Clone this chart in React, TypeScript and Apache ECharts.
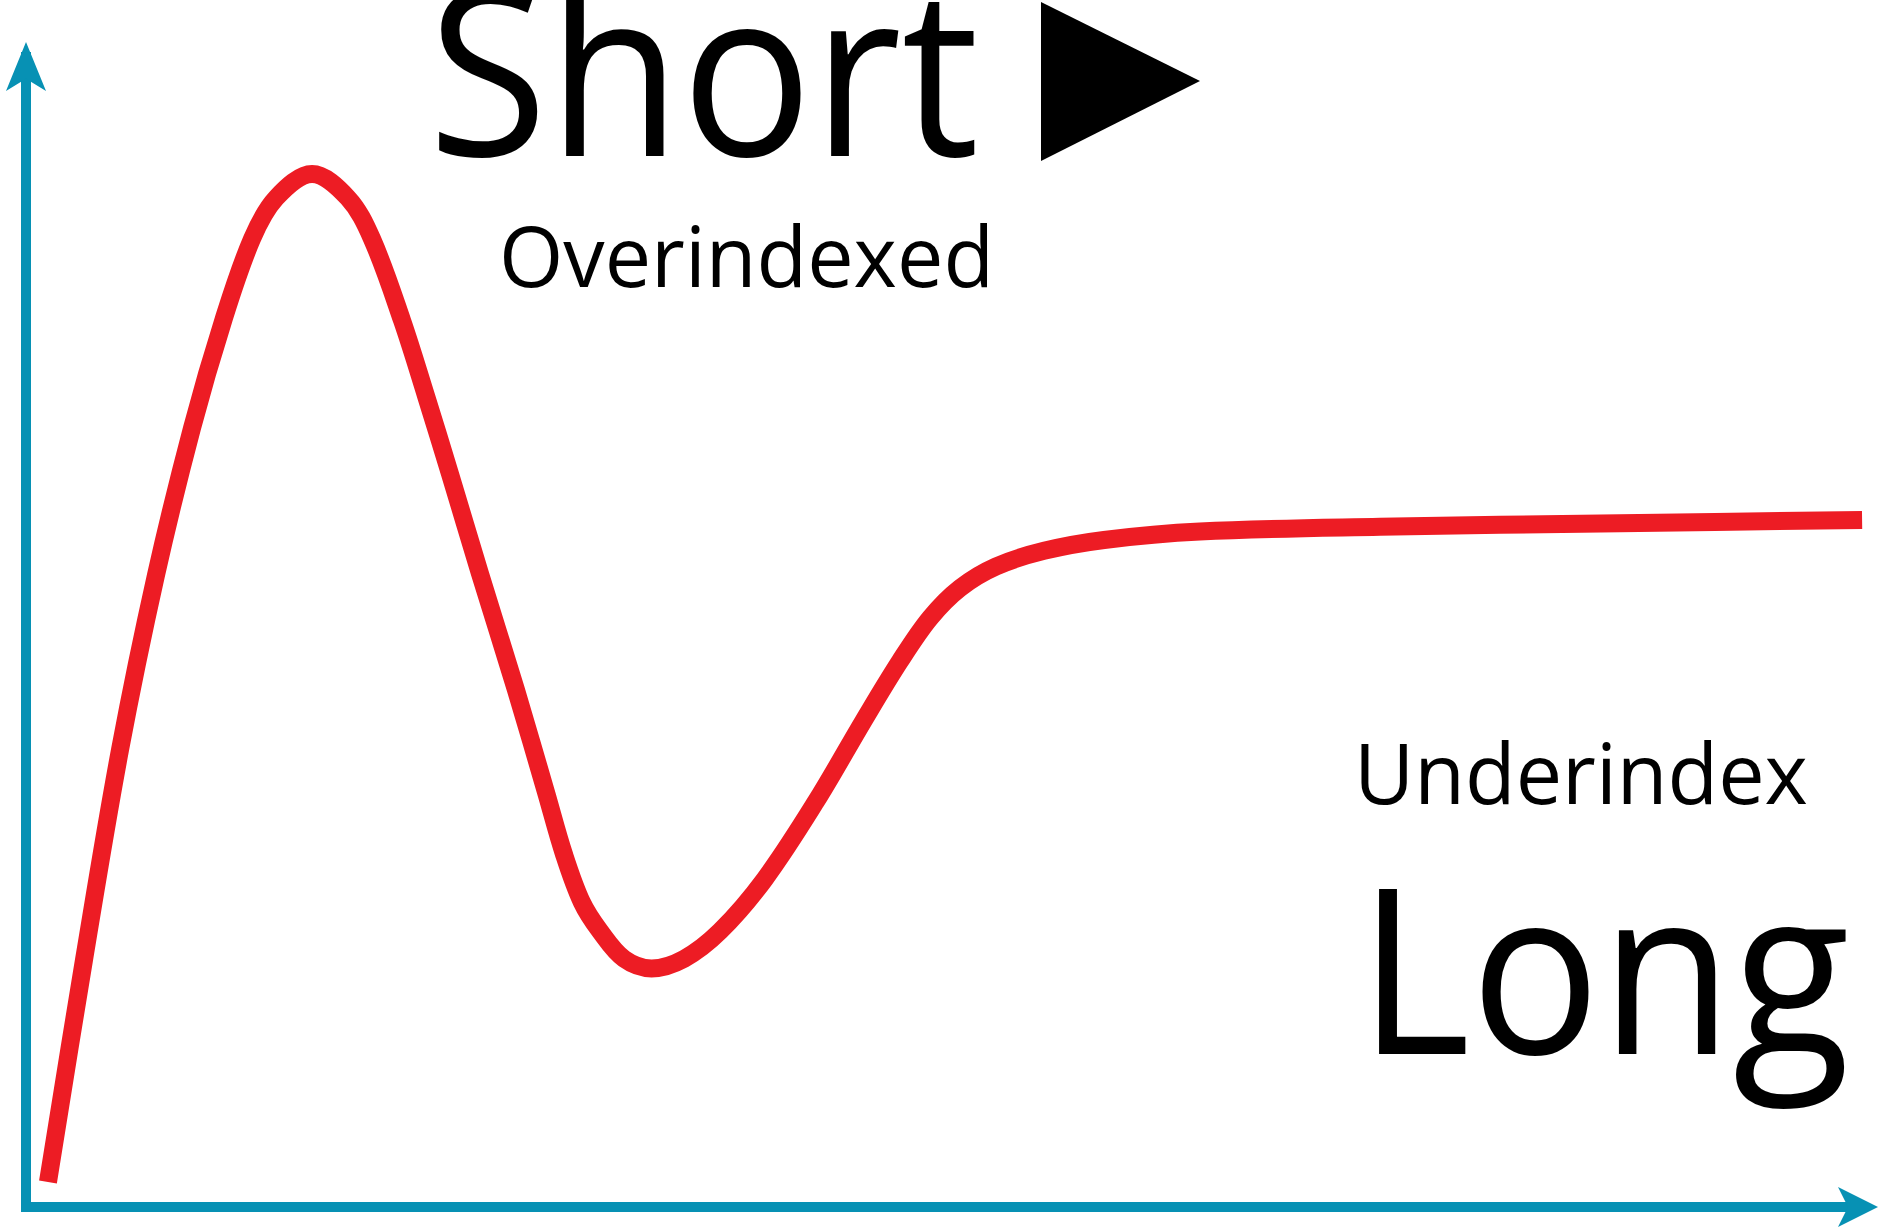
import React, { useEffect, useRef } from "react";
import * as echarts from "echarts";

// Curve samples (x: time, y: level)
const timeValues = [1.46, 3.41, 5.36, 7.31, 9.26, 10.95, 12.51, 13.81, 15.76, 17.7, 19.0, 20.63, 21.93, 23.23, 24.85, 26.8, 28.42, 29.4, 30.37, 31.35, 32.65, 34.14, 35.9, 37.85, 40.25, 43.04, 45.64, 47.59, 49.22, 50.84, 52.79, 55.39, 58.64, 63.83, 73.58, 86.57, 99.68];
const levelValues = [2.16, 21.39, 39.57, 54.72, 67.45, 76.76, 83.83, 87.36, 89.44, 87.36, 83.83, 76.76, 70.22, 63.46, 54.84, 44.76, 35.93, 30.53, 26.37, 23.88, 21.49, 20.66, 21.49, 23.88, 28.35, 35.1, 42.16, 47.26, 51.0, 53.59, 55.46, 56.81, 57.75, 58.48, 58.89, 59.2, 59.48];

const topWord = "Short";
const topNote = "Overindexed";
const bottomNote = "Underindex";
const bottomWord = "Long";

const AXIS_COLOR = "#0791b4";
const LINE_COLOR = "#ed1c24";
const FONT = "'Open Sans', 'Noto Sans', sans-serif";

export default function App() {
  const ref = useRef<HTMLDivElement>(null);

  useEffect(() => {
    if (!ref.current) return;
    const chart = echarts.init(ref.current, undefined, { renderer: "svg" });
    const data = timeValues.map((t, i) => [t, levelValues[i]]);

    const axisLineBase = {
      show: true,
      onZero: false,
      symbolOffset: [0, 10],
      lineStyle: { color: AXIS_COLOR, width: 10, cap: "butt" },
    };

    chart.setOption({
      animation: false,
      backgroundColor: "#ffffff",
      grid: { left: 21, right: 14, top: 52, bottom: 25 },
      xAxis: {
        type: "value",
        min: 0,
        max: 100,
        position: "bottom",
        axisLine: { ...axisLineBase, symbol: ["none", "arrow"], symbolSize: [30, 40] },
        axisTick: { show: false },
        axisLabel: { show: false },
        splitLine: { show: false },
      },
      yAxis: {
        type: "value",
        min: 0,
        max: 100,
        position: "left",
        offset: -5,
        axisLine: { ...axisLineBase, symbol: ["none", "arrow"], symbolSize: [30, 49] },
        axisTick: { show: false },
        axisLabel: { show: false },
        splitLine: { show: false },
      },
      series: [
        {
          type: "line",
          data,
          smooth: 0.35,
          symbol: "none",
          clip: false,
          lineStyle: { color: LINE_COLOR, width: 18, cap: "butt", join: "round" },
          z: 3,
        },
      ],
      graphic: [
        {
          type: "text",
          x: 428,
          y: 66,
          scaleX: 0.94,
          style: {
            text: topWord,
            fontFamily: FONT,
            fontSize: 232,
            fill: "#000",
            textAlign: "left",
            verticalAlign: "middle",
          },
        },
        {
          type: "polygon",
          shape: { points: [[1041, 2], [1041, 161], [1200, 81]] },
          style: { fill: "#000" },
        },
        {
          type: "text",
          x: 499,
          y: 254,
          scaleX: 0.985,
          style: {
            text: topNote,
            fontFamily: FONT,
            fontSize: 84,
            fill: "#000",
            textAlign: "left",
            verticalAlign: "middle",
          },
        },
        {
          type: "text",
          x: 1354,
          y: 771,
          scaleX: 0.985,
          style: {
            text: bottomNote,
            fontFamily: FONT,
            fontSize: 84,
            fill: "#000",
            textAlign: "left",
            verticalAlign: "middle",
          },
        },
        {
          type: "text",
          x: 1358,
          y: 964,
          scaleX: 0.93,
          style: {
            text: bottomWord,
            fontFamily: FONT,
            fontSize: 232,
            fill: "#000",
            textAlign: "left",
            verticalAlign: "middle",
          },
        },
      ],
    });

    return () => chart.dispose();
  }, []);

  return (
    <div
      ref={ref}
      style={{ position: "absolute", left: 0, top: 0, width: 1882, height: 1232, background: "#fff" }}
    />
  );
}
